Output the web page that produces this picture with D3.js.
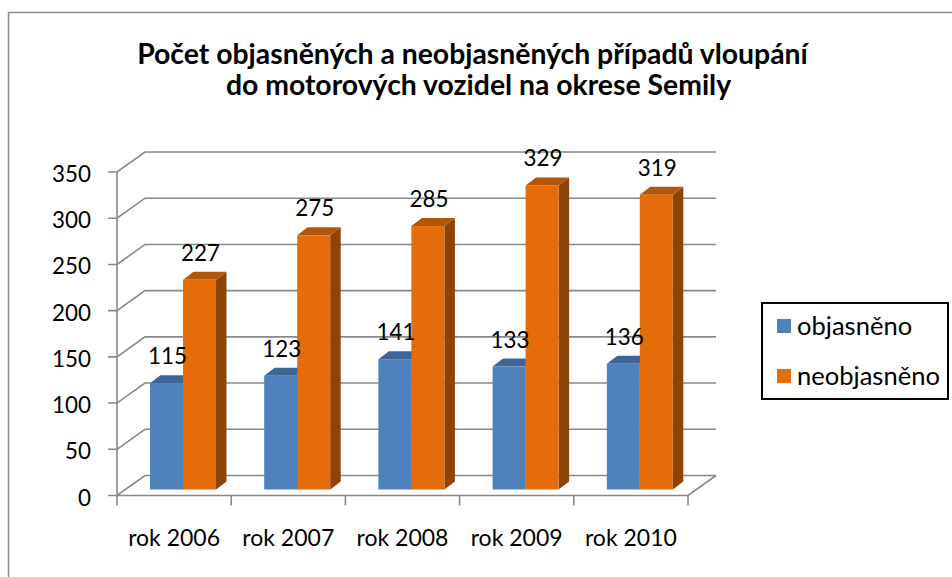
<!DOCTYPE html>
<html><head><meta charset="utf-8">
<script src="https://cdn.jsdelivr.net/npm/d3@7"></script>
<style>body{margin:0;background:#fff}svg{display:block}text{font-family:Lato,"Open Sans",sans-serif}</style>
</head><body>
<svg id="c" width="952" height="577"></svg>
<script>
const titleLines = ["Počet objasněných a neobjasněných případů vloupání", "do motorových vozidel na okrese Semily"];
const categories = ["rok 2006", "rok 2007", "rok 2008", "rok 2009", "rok 2010"];
const seriesNames = ["objasněno", "neobjasněno"];
const objasneno = [115, 123, 141, 133, 136];
const neobjasneno = [227, 275, 285, 329, 319];
const yTicks = [0, 50, 100, 150, 200, 250, 300, 350];
const colors = {front: ["#4F81BD", "#E46C0A"], top: ["#3D6596", "#B4560A"], side: ["#34567F", "#8F4307"]};

const svg = d3.select("#c");
svg.append("rect").attr("x", 8.5).attr("y", 12.5).attr("width", 1000).attr("height", 1000)
  .attr("fill", "#fff").attr("stroke", "#8a8a8a").attr("stroke-width", 1.5);

// helper: font size so that a sample string reaches a target width
function fitSize(sample, target, weight) {
  const t = svg.append("text").attr("font-size", 20).attr("font-weight", weight || "normal").text(sample);
  const w = t.node().getComputedTextLength();
  t.remove();
  return 20 * target / w;
}
const titleSize = fitSize(titleLines[0], 671, "bold");
const tickSize = fitSize("350", 39);
const catSize = fitSize("rok 2006", 92);
const legSize = fitSize("neobjasněno", 143);

// title
const titleCx = [472.5, 478.5];
titleLines.forEach((t, i) => {
  svg.append("text").attr("x", titleCx[i]).attr("y", 64 + i * 31).attr("text-anchor", "middle")
    .attr("font-weight", "bold").attr("font-size", titleSize).attr("fill", "#000").text(t);
});

const x0 = d3.scaleBand().domain(categories).range([117, 688]).padding(0);
const y = d3.scaleLinear().domain([0, 350]).range([495.5, 172]);
const wallDx = 28, wallDy = -20;
const grid = svg.append("g").attr("stroke", "#888").attr("stroke-width", 1.6).attr("fill", "none");

yTicks.forEach(v => {
  const yy = y(v);
  grid.append("path").attr("d", `M108,${yy}H117L${117 + wallDx},${yy + wallDy}H716`);
});
grid.append("line").attr("x1", 117).attr("x2", 117).attr("y1", y(350)).attr("y2", y(0));
grid.append("path").attr("d", `M117,${y(0)}H688L716,${y(0) + wallDy}`);
categories.concat([null]).forEach((c, i) => {
  const xx = c ? x0(c) : x0.range()[1];
  grid.append("line").attr("x1", xx).attr("x2", xx).attr("y1", y(0)).attr("y2", y(0) + 10);
});

svg.append("g").selectAll("text").data(yTicks).join("text")
  .attr("x", 91).attr("y", d => y(d) + 10).attr("text-anchor", "end")
  .attr("font-size", tickSize).attr("fill", "#000").text(d => d);

svg.append("g").selectAll("text").data(categories).join("text")
  .attr("x", d => x0(d) + x0.bandwidth() / 2).attr("y", 546).attr("text-anchor", "middle")
  .attr("font-size", catSize).attr("fill", "#000").text(d => d);

const x1 = d3.scaleBand().domain(seriesNames).range([25, 91]).padding(0);
const depthX = 8, depthY = -6;
const bdx = 10.5, bdy = -8;
const seriesData = [objasneno, neobjasneno];
const barsG = svg.append("g");
const labelsG = svg.append("g");
seriesData.forEach((vals, s) => {
  categories.forEach((c, i) => {
    const v = vals[i];
    const xl = x0(c) + x1(seriesNames[s]) + depthX;
    const w = x1.bandwidth();
    const yb = y(0) + depthY;
    const yt = y(v) + depthY;
    const g = barsG.append("g");
    g.append("path").attr("d", `M${xl + w},${yt}L${xl + w + bdx},${yt + bdy}V${yb + bdy}L${xl + w},${yb}Z`).attr("fill", colors.side[s]);
    g.append("path").attr("d", `M${xl},${yt}L${xl + bdx},${yt + bdy}H${xl + w + bdx}L${xl + w},${yt}Z`).attr("fill", colors.top[s]);
    g.append("rect").attr("x", xl).attr("y", yt).attr("width", w).attr("height", yb - yt).attr("fill", colors.front[s]);
    labelsG.append("text").attr("x", xl + w / 2 + 1).attr("y", yt - 19).attr("text-anchor", "middle")
      .attr("font-size", tickSize).attr("fill", "#000").text(v);
  });
});

const lg = svg.append("g");
lg.append("rect").attr("x", 762).attr("y", 303).attr("width", 186).attr("height", 96)
  .attr("fill", "#fff").attr("stroke", "#000").attr("stroke-width", 2);
seriesNames.forEach((n, i) => {
  lg.append("rect").attr("x", 777).attr("y", 319 + i * 50).attr("width", 14).attr("height", 14).attr("fill", colors.front[i]);
  lg.append("text").attr("x", 797).attr("y", 335 + i * 50).attr("font-size", legSize).attr("fill", "#000").text(n);
});
</script>
</body></html>
